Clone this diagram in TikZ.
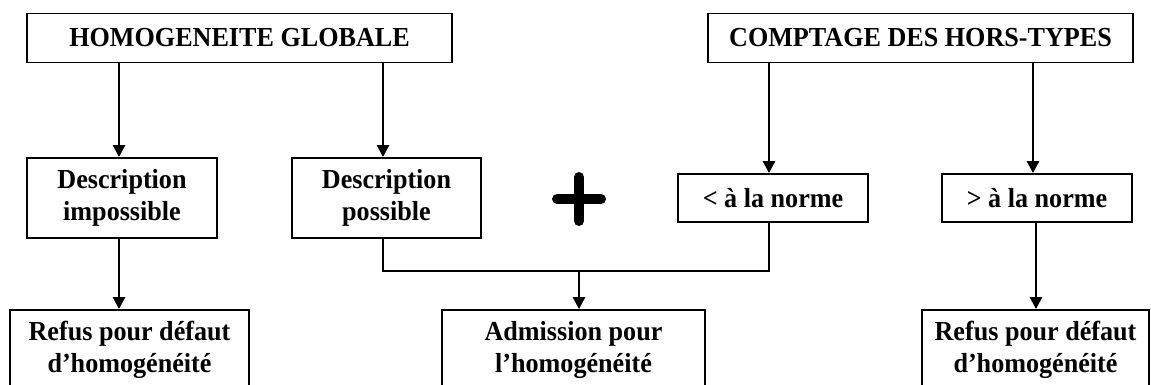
\documentclass[tikz,border=0pt]{standalone}
\usepackage{fontspec}
\setmainfont{Liberation Serif}
\newfontfamily\boxfont[FakeStretch=0.95]{Liberation Serif}
\usetikzlibrary{arrows.meta}
\tikzset{
  box/.style={draw, line width=1.8pt, inner sep=0pt, align=center,
    font=\boxfont\fontsize{27.5}{31.5}\selectfont\bfseries},
  arr/.style={line width=2.7pt, -{Triangle[length=12pt,width=12pt]}},
  link/.style={line width=1.8pt},
  plusbar/.style={line width=10pt, line cap=round},
}
\begin{document}
\begin{tikzpicture}[x=1pt,y=1pt]
\useasboundingbox (0,0) rectangle (1151,-385);
\clip (0,0) rectangle (1151,-385);
\fill[white] (0,0) rectangle (1151,-385);
% column positions of the connectors
\coordinate (c1) at (119,0);
\coordinate (c2) at (383,0);
\coordinate (c3) at (769,0);
\coordinate (c4) at (1033,0);
\coordinate (c5) at (1036,0);
\coordinate (c6) at (579,0);
% top boxes
\node[box, minimum width=425, minimum height=49] (hg) at (239.5,-38) {HOMOGENEITE GLOBALE};
\node[box, minimum width=425, minimum height=49] (ct) at (920.5,-38) {COMPTAGE DES HORS-TYPES};
% middle boxes
\node[box, minimum width=190, minimum height=80] (di) at (122,-198) {Description\\impossible};
\node[box, minimum width=189, minimum height=80] (dp) at (386.5,-198) {Description\\possible};
\node[box, minimum width=190, minimum height=48] (inf) at (773,-198) {< à la norme};
\node[box, minimum width=190, minimum height=48] (sup) at (1037,-198) {> à la norme};
% bottom boxes (cut by the frame)
\node[box, minimum width=239, minimum height=80] (r1) at (129.5,-350) {Refus pour défaut\\d’homogénéité};
\node[box, minimum width=263, minimum height=80] (ad) at (573.5,-350) {Admission pour\\l’homogénéité};
\node[box, minimum width=227, minimum height=80] (r2) at (1035.5,-350) {Refus pour défaut\\d’homogénéité};
% plus sign
\coordinate (plus) at (c6 |- 0,-199);
\draw[plusbar] ([yshift=22]plus) -- ([yshift=-22]plus);
\draw[plusbar] ([xshift=-22]plus) -- ([xshift=22]plus);
% arrows
\draw[arr] (hg.south -| c1) -- (di.north -| c1);
\draw[arr] (hg.south -| c2) -- (dp.north -| c2);
\draw[arr] (ct.south -| c3) -- (inf.north -| c3);
\draw[arr] (ct.south -| c4) -- (sup.north -| c4);
\draw[arr] (di.south -| c1) -- (r1.north -| c1);
\draw[arr] (sup.south -| c5) -- (r2.north -| c5);
% join
\coordinate (j) at (c6 |- 0,-271);
\draw[link] (dp.south -| c2) |- (j) -| (inf.south -| c3);
\draw[arr] (j) -- (ad.north -| c6);
\end{tikzpicture}
\end{document}
